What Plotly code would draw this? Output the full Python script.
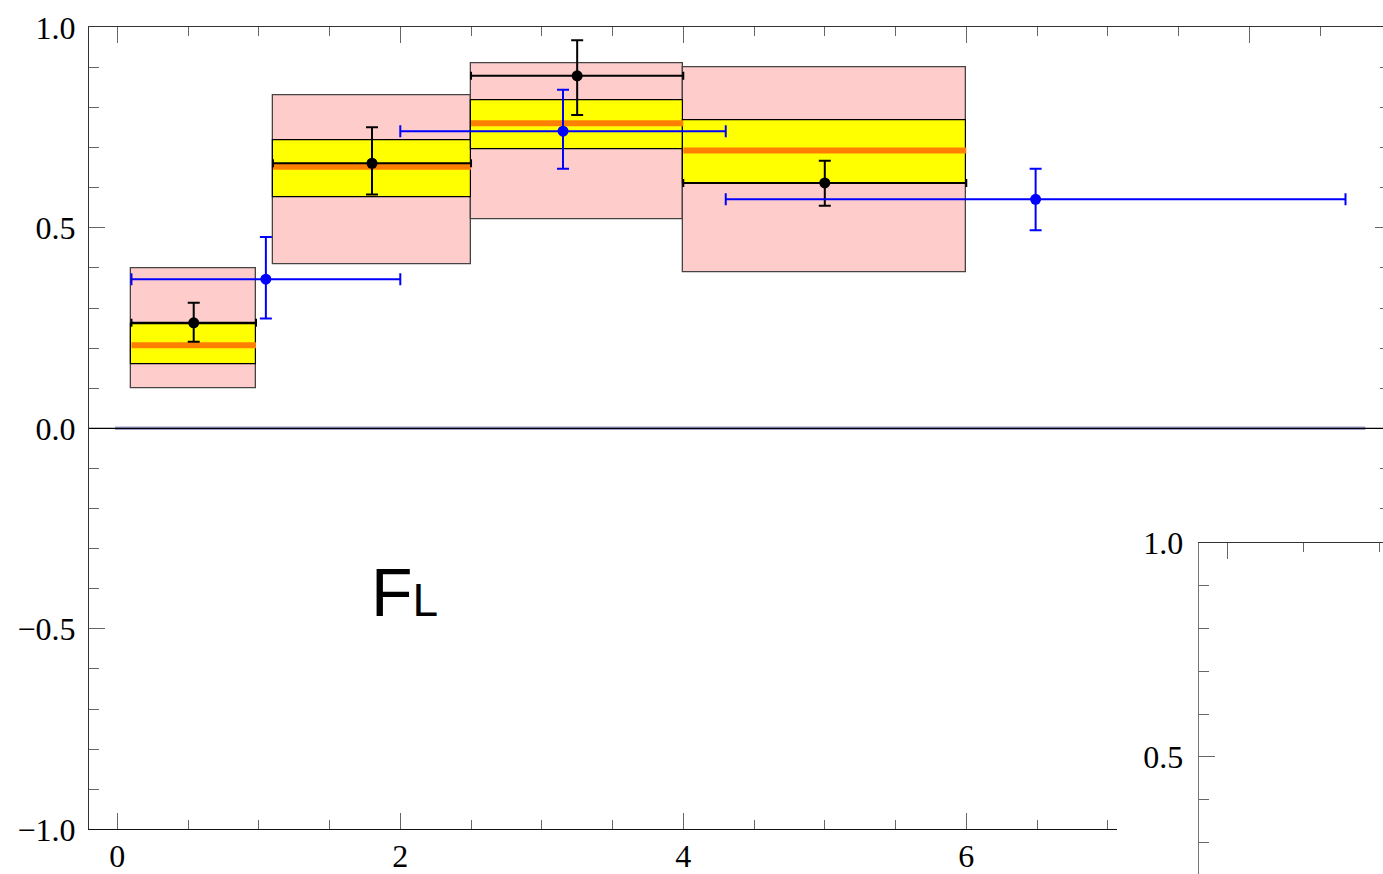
import plotly.graph_objects as go

W, H = 1383, 874

# ---------------- data ----------------
bin_lo = [0.10, 1.10, 2.50, 4.00]
bin_hi = [0.98, 2.50, 4.00, 6.00]
pink_lo = [0.10, 0.41, 0.52, 0.39]
pink_hi = [0.40, 0.83, 0.91, 0.90]
yellow_lo = [0.160, 0.576, 0.695, 0.612]
yellow_hi = [0.260, 0.717, 0.818, 0.767]
orange_val = [0.207, 0.652, 0.761, 0.693]

black_x = [0.54, 1.80, 3.25, 5.00]
black_y = [0.263, 0.661, 0.879, 0.612]
black_up = [0.050, 0.090, 0.089, 0.055]
black_dn = [0.047, 0.078, 0.098, 0.057]

blue_lo = [0.10, 2.00, 4.30]
blue_hi = [2.00, 4.30, 8.68]
blue_x = [1.05, 3.15, 6.49]
blue_y = [0.372, 0.741, 0.571]
blue_up = [0.105, 0.103, 0.076]
blue_dn = [0.098, 0.094, 0.077]

halo_x = [-0.016, 8.82]
halo_y = [0.0, 0.0]

y_tick_vals = [-1.0, -0.5, 0.0, 0.5, 1.0]
y_tick_text = ["\u22121.0", "\u22120.5", "0.0", "0.5", "1.0"]
x_tick_vals = [0, 2, 4, 6]
x_tick_text = ["0", "2", "4", "6"]
inset_y_vals = [0.5, 1.0]
inset_y_text = ["0.5", "1.0"]

# ---------------- styling helpers ----------------
LINE = "#333333"
TICK = "#666666"
TFONT = dict(family="Liberation Serif", size=32, color="black")

def fx(p):
    return p / W

def fy(p):
    return 1 - p / H

fig = go.Figure()

centers = [(a + b) / 2 for a, b in zip(bin_lo, bin_hi)]
widths = [b - a for a, b in zip(bin_lo, bin_hi)]

# pink boxes
fig.add_trace(go.Bar(
    x=centers, width=widths, base=pink_lo,
    y=[h - l for l, h in zip(pink_lo, pink_hi)],
    marker=dict(color="#FFCCCC", line=dict(color="#444444", width=1.3)),
    xaxis="x2", yaxis="y", showlegend=False, hoverinfo="skip",
))
# yellow boxes
fig.add_trace(go.Bar(
    x=centers, width=widths, base=yellow_lo,
    y=[h - l for l, h in zip(yellow_lo, yellow_hi)],
    marker=dict(color="#FFFF00", line=dict(color="#000000", width=1.2)),
    xaxis="x2", yaxis="y", showlegend=False, hoverinfo="skip",
))

# zero halo line
fig.add_trace(go.Scatter(
    x=halo_x, y=halo_y, mode="lines",
    line=dict(color="rgb(160,160,205)", width=3.5),
    xaxis="x2", yaxis="y", showlegend=False, hoverinfo="skip",
))

# orange central lines
ox, oy = [], []
for a, b, v in zip(bin_lo, bin_hi, orange_val):
    ox += [a, b, None]
    oy += [v, v, None]
fig.add_trace(go.Scatter(
    x=ox, y=oy, mode="lines",
    line=dict(color="#FF8000", width=6),
    xaxis="x2", yaxis="y", showlegend=False, hoverinfo="skip",
))

# black points
fig.add_trace(go.Scatter(
    x=black_x, y=black_y, mode="markers",
    marker=dict(color="black", size=11),
    error_x=dict(type="data", symmetric=False,
                 array=[h - c for h, c in zip(bin_hi, black_x)],
                 arrayminus=[c - l for l, c in zip(bin_lo, black_x)],
                 color="black", thickness=2, width=4),
    error_y=dict(type="data", symmetric=False, array=black_up, arrayminus=black_dn,
                 color="black", thickness=2, width=6),
    xaxis="x2", yaxis="y", showlegend=False, hoverinfo="skip", cliponaxis=False,
))

# blue points
fig.add_trace(go.Scatter(
    x=blue_x, y=blue_y, mode="markers",
    marker=dict(color="#0000FF", size=11),
    error_x=dict(type="data", symmetric=False,
                 array=[h - c for h, c in zip(blue_hi, blue_x)],
                 arrayminus=[c - l for l, c in zip(blue_lo, blue_x)],
                 color="#0000FF", thickness=2, width=6),
    error_y=dict(type="data", symmetric=False, array=blue_up, arrayminus=blue_dn,
                 color="#0000FF", thickness=2, width=6),
    xaxis="x2", yaxis="y", showlegend=False, hoverinfo="skip", cliponaxis=False,
))

# dummy traces so that the bottom-axis subplot, the right-tick axis and the inset exist
fig.add_trace(go.Scatter(x=[None], y=[None], xaxis="x", yaxis="y",
                         showlegend=False, hoverinfo="skip"))
fig.add_trace(go.Scatter(x=[None], y=[None], xaxis="x2", yaxis="y3",
                         showlegend=False, hoverinfo="skip"))
fig.add_trace(go.Scatter(x=[None], y=[None], xaxis="x4", yaxis="y4",
                         showlegend=False, hoverinfo="skip"))

common = dict(showgrid=False, zeroline=False, automargin=False, fixedrange=True)

fig.update_layout(
    width=W, height=H,
    margin=dict(l=0, r=0, t=0, b=0, pad=0),
    paper_bgcolor="white", plot_bgcolor="rgba(0,0,0,0)",
    barmode="overlay", bargap=0,
    template="none",
    # bottom axis of main panel (labels)
    xaxis=dict(domain=[fx(89.0), fx(1116.7)], range=[-0.2, 7.063], anchor="y", side="bottom",
               showline=True, linecolor="#111111", linewidth=1.3,
               ticks="inside", ticklen=16, tickwidth=1.2, tickcolor=TICK,
               tickmode="array", tickvals=x_tick_vals, ticktext=x_tick_text,
               tickfont=TFONT, ticklabelstandoff=-2,
               minor=dict(tickmode="linear", tick0=0, dtick=0.5, ticks="inside",
                          ticklen=9, tickwidth=1.2, tickcolor=TICK, showgrid=False),
               **common),
    # top axis of main panel (data axis)
    xaxis2=dict(domain=[fx(89.0), 1.0], range=[-0.2, 8.945], anchor="y", side="top",
                showline=True, linecolor=LINE, linewidth=1.3,
                ticks="inside", ticklen=16, tickwidth=1.2, tickcolor=TICK,
                tickmode="linear", tick0=0, dtick=2, showticklabels=False,
                minor=dict(tickmode="linear", tick0=0, dtick=0.5, ticks="inside",
                           ticklen=9, tickwidth=1.2, tickcolor=TICK, showgrid=False),
                **common),
    yaxis=dict(domain=[fy(829.3), fy(27.3)], range=[-1, 1], anchor="x2", side="left",
               showline=True, linecolor=LINE, linewidth=1.3,
               ticks="inside", ticklen=16, tickwidth=1.2, tickcolor=TICK,
               tickmode="array", tickvals=y_tick_vals, ticktext=y_tick_text,
               tickfont=TFONT, ticklabelstandoff=6,
               minor=dict(tickmode="linear", tick0=0, dtick=0.1, ticks="inside",
                          ticklen=10, tickwidth=1.2, tickcolor=TICK, showgrid=False),
               **common),
    # right-side partial ticks of main frame
    yaxis3=dict(domain=[fy(515), fy(27.3)], range=[-0.2162, 1.0], anchor="x2", side="right",
                showline=False, ticks="inside", ticklen=8, tickwidth=1.2, tickcolor=TICK,
                tickmode="linear", tick0=0, dtick=0.5, showticklabels=False,
                minor=dict(tickmode="linear", tick0=0, dtick=0.1, ticks="inside",
                           ticklen=3, tickwidth=1.2, tickcolor=TICK, showgrid=False),
                **common),
    # inset
    xaxis4=dict(domain=[fx(1198.7), 1.0], range=[-0.1915, 1.0258], anchor="y4", side="top",
                showline=True, linecolor=LINE, linewidth=1.3,
                ticks="inside", ticklen=16, tickwidth=1.2, tickcolor=TICK,
                tickmode="linear", tick0=0, dtick=2, showticklabels=False,
                minor=dict(tickmode="linear", tick0=0, dtick=0.5, ticks="inside",
                           ticklen=9, tickwidth=1.2, tickcolor=TICK, showgrid=False),
                **common),
    yaxis4=dict(domain=[0.0, fy(542.7)], range=[0.227, 1.0], anchor="x4", side="left",
                showline=True, linecolor="#777777", linewidth=1.3,
                ticks="inside", ticklen=16, tickwidth=1.2, tickcolor=TICK,
                tickmode="array", tickvals=inset_y_vals, ticktext=inset_y_text,
                tickfont=TFONT, ticklabelstandoff=8,
                minor=dict(tickmode="linear", tick0=0, dtick=0.1, ticks="inside",
                           ticklen=10, tickwidth=1.2, tickcolor=TICK, showgrid=False),
                **common),
    shapes=[dict(type="line", xref="x2 domain", x0=0, x1=1, yref="y", y0=0, y1=0,
                 line=dict(color="black", width=1.3), layer="above")],
    annotations=[dict(text="F<span style='font-size:46px'>L</span>",
                      xref="paper", yref="paper", x=fx(404), y=fy(592),
                      xanchor="center", yanchor="middle", showarrow=False,
                      font=dict(family="Liberation Sans", size=68, color="black"))],
)

fig.write_html("out.html")
